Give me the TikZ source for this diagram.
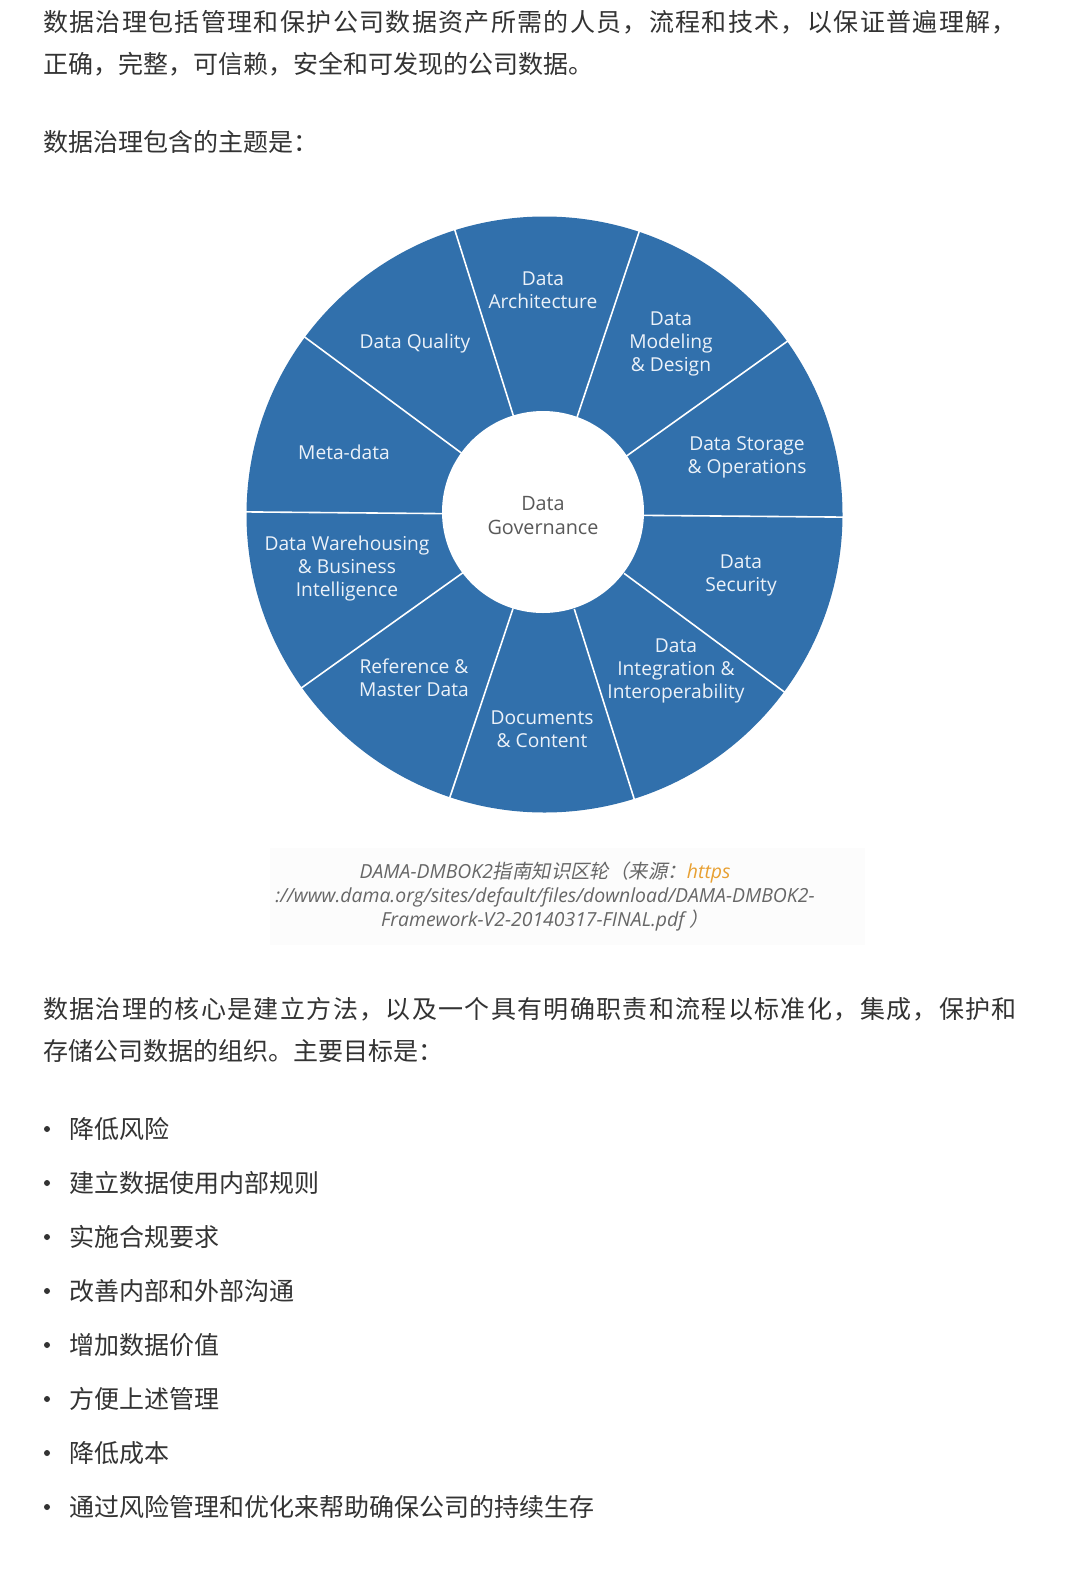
\documentclass[tikz,border=0pt]{standalone}
\usepackage{fontspec}
\setmainfont{Open Sans}
\newfontfamily\cjk{Noto Sans CJK SC}
\newfontfamily\cjkwide[LetterSpace=5.4]{Noto Sans CJK SC}
\newfontfamily\cjkit[FakeSlant=0.2]{Noto Sans CJK SC}
\usetikzlibrary{calc}
\definecolor{wheelblue}{RGB}{49,112,172}
\definecolor{labeltext}{RGB}{236,242,249}
\definecolor{bodytext}{RGB}{51,51,51}
\definecolor{captext}{RGB}{102,102,102}
\definecolor{linkorange}{RGB}{232,160,50}
\definecolor{capbg}{RGB}{252,252,252}
\tikzset{
  body/.style={anchor=west, inner sep=0pt, text=bodytext, font=\cjk\fontsize{25}{25}\selectfont},
  bodywide/.style={anchor=west, inner sep=0pt, text=bodytext, font=\cjkwide\fontsize{25}{25}\selectfont},
  seglabel/.style={align=center, inner sep=0pt, text=labeltext, font=\fontsize{19.2}{23}\selectfont},
  centerlabel/.style={align=center, inner sep=0pt, text=black!65, font=\fontsize{19.8}{24}\selectfont},
  divider/.style={draw=white, line width=1.6pt},
  caption/.style={align=center, inner sep=0pt, text=captext, font=\fontsize{19.4}{24}\selectfont},
  bulletdot/.style={circle, fill=bodytext, inner sep=0pt, minimum size=6pt},
}
\begin{document}
\begin{tikzpicture}[x=1pt, y=-1pt]
\useasboundingbox[fill=white] (0,0) rectangle (1080,1571);

% intro text
\node[bodywide] (p1a) at (43,22) {数据治理包括管理和保护公司数据资产所需的人员，流程和技术，以保证普遍理解，};
\node[body] (p1b) at (43,64) {正确，完整，可信赖，安全和可发现的公司数据。};
\node[body] (p2) at (43,142) {数据治理包含的主题是：};

% caption background
\fill[capbg] (270,848) rectangle (865,945);

% wheel
\coordinate (c) at (544.5,514.5);
\fill[wheelblue] (c) circle (298pt);
\foreach \k in {0,...,9}{
  \draw[divider] ($(c)+(36*\k-0.5:99pt)$) -- ($(c)+(36*\k-0.5:299pt)$);
}
\fill[white] (543,512) circle (101pt);

\node[centerlabel] (gov) at (543,516) {Data\\Governance};
\node[seglabel] (arch) at (543,290) {Data\\Architecture};
\node[seglabel] (qual) at (415,344) {Data Quality};
\node[seglabel] (model) at (671,344) {Data\\Modeling\\\& Design};
\node[seglabel] (stor) at (747,457) {Data Storage\\\& Operations};
\node[seglabel] (meta) at (344,452) {Meta-data};
\node[seglabel] (dw) at (347,569) {Data Warehousing\\\& Business\\Intelligence};
\node[seglabel] (sec) at (741,575) {Data\\Security};
\node[seglabel] (ref) at (414,678) {Reference \&\\Master Data};
\node[seglabel] (integ) at (676,671) {Data\\Integration \&\\Interoperability};
\node[seglabel] (docs) at (542,729) {Documents\\\& Content};

% caption
\node[caption] (cap) at (545,897) {{\itshape DAMA-DMBOK2}{\cjkit 指南知识区轮（来源：}{\itshape\color{linkorange}https}\\
\itshape ://www.dama.org/sites/default/files/download/DAMA-DMBOK2-\\
\itshape Framework-V2-20140317-FINAL.pdf {\cjkit ）}};

% second paragraph
\node[bodywide] (p3a) at (43,1009) {数据治理的核心是建立方法，以及一个具有明确职责和流程以标准化，集成，保护和};
\node[body] (p3b) at (43,1051) {存储公司数据的组织。主要目标是：};

% bullets
\foreach \t [count=\i from 0] in {降低风险,建立数据使用内部规则,实施合规要求,改善内部和外部沟通,增加数据价值,方便上述管理,降低成本,通过风险管理和优化来帮助确保公司的持续生存}{
  \node[bulletdot] (b\i) at (47,1129+54*\i) {};
  \node[body] (t\i) at (69,1129+54*\i) {\t};
}
\end{tikzpicture}
\end{document}
